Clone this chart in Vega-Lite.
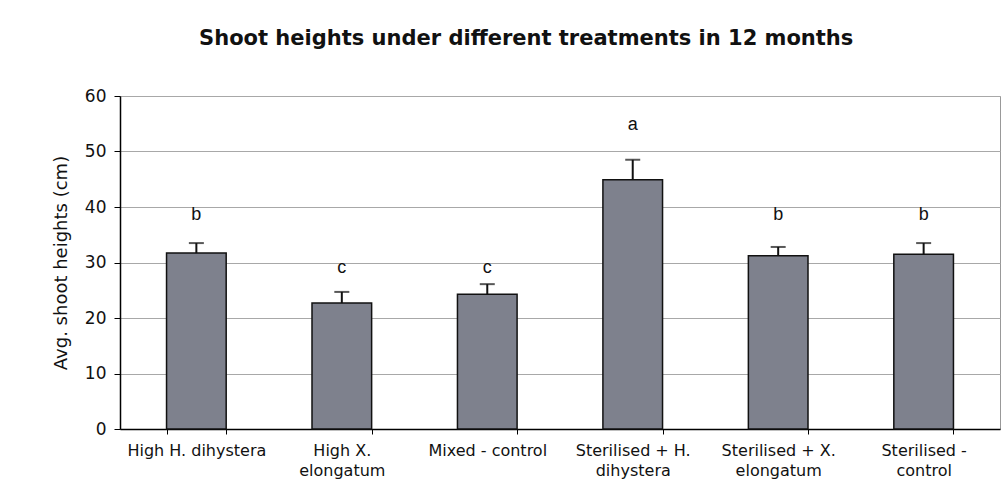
{
  "$schema": "https://vega.github.io/schema/vega-lite/v6.json",
  "width": 880,
  "height": 333,
  "autosize": "none",
  "padding": {"left": 120, "top": 96, "right": 6, "bottom": 62},
  "background": "white",
  "title": {
    "text": "Shoot heights under different treatments in 12 months",
    "font": "DejaVu Sans",
    "fontWeight": "bold",
    "fontSize": 21,
    "color": "#111111",
    "anchor": "middle",
    "frame": "bounds",
    "offset": 38
  },
  "data": {
    "values": [
      {"treatment": "High H. dihystera", "height": 31.7, "upper": 33.5, "letter": "b", "letterPos": 38.6},
      {"treatment": "High X.|elongatum", "height": 22.7, "upper": 24.7, "letter": "c", "letterPos": 29.0},
      {"treatment": "Mixed - control", "height": 24.3, "upper": 26.1, "letter": "c", "letterPos": 29.0},
      {"treatment": "Sterilised + H.|dihystera", "height": 44.9, "upper": 48.5, "letter": "a", "letterPos": 54.8},
      {"treatment": "Sterilised + X.|elongatum", "height": 31.2, "upper": 32.8, "letter": "b", "letterPos": 38.6},
      {"treatment": "Sterilised -|control", "height": 31.5, "upper": 33.5, "letter": "b", "letterPos": 38.6}
    ]
  },
  "encoding": {
    "x": {
      "field": "treatment",
      "type": "nominal",
      "sort": null,
      "scale": {"paddingInner": 0.59, "paddingOuter": 0.32},
      "axis": {
        "title": null,
        "labelAngle": 0,
        "labelExpr": "split(datum.label, '|')",
        "labelFont": "DejaVu Sans",
        "labelFontSize": 16,
        "labelColor": "#111111",
        "labelLineHeight": 20,
        "labelPadding": 8,
        "labelBaseline": "top",
        "tickBand": "extent",
        "tickSize": 5,
        "tickColor": "#000000",
        "domainColor": "#000000",
        "domainWidth": 1.5,
        "grid": false
      }
    }
  },
  "layer": [
    {
      "mark": {"type": "bar", "color": "#7e818d", "stroke": "#111111", "strokeWidth": 1.5},
      "encoding": {
        "y": {
          "field": "height",
          "type": "quantitative",
          "scale": {"domain": [0, 60], "nice": false},
          "axis": {
            "title": "Avg. shoot heights (cm)",
            "titleFont": "DejaVu Sans",
            "titleFontSize": 18,
            "titleFontWeight": "normal",
            "titleColor": "#111111",
            "titlePadding": 14,
            "values": [0, 10, 20, 30, 40, 50, 60],
            "labelFont": "DejaVu Sans",
            "labelFontSize": 17,
            "labelColor": "#111111",
            "labelPadding": 8,
            "tickSize": 6,
            "tickColor": "#000000",
            "domainColor": "#000000",
            "domainWidth": 1.5,
            "gridColor": "#a8a8a8",
            "gridWidth": 1
          }
        }
      }
    },
    {
      "mark": {"type": "rule", "color": "#111111", "strokeWidth": 2},
      "encoding": {
        "y": {"field": "height", "type": "quantitative"},
        "y2": {"field": "upper"}
      }
    },
    {
      "mark": {"type": "tick", "color": "#111111", "thickness": 2, "size": 15, "orient": "horizontal"},
      "encoding": {
        "y": {"field": "upper", "type": "quantitative"}
      }
    },
    {
      "mark": {"type": "text", "font": "Liberation Sans", "fontSize": 18, "color": "#111111", "baseline": "middle"},
      "encoding": {
        "y": {"field": "letterPos", "type": "quantitative"},
        "text": {"field": "letter"}
      }
    }
  ],
  "config": {
    "view": {"stroke": "#999999", "strokeWidth": 1}
  }
}
